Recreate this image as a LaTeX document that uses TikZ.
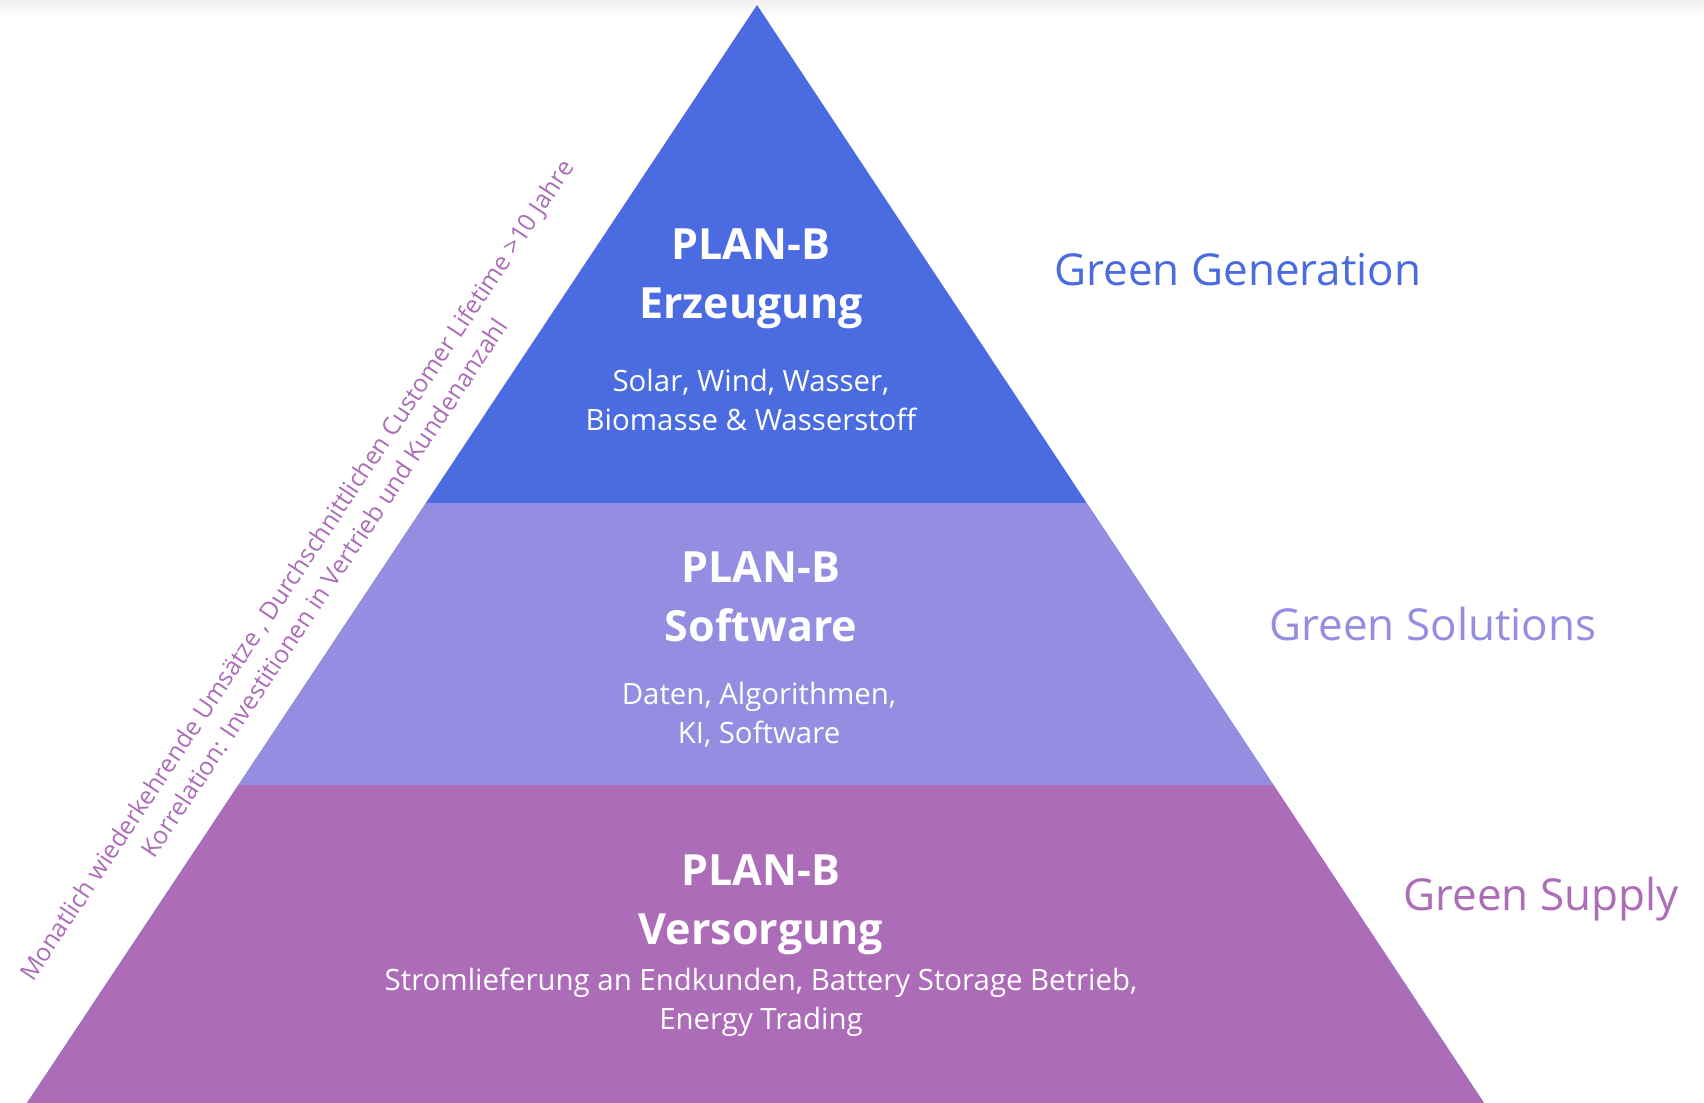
\documentclass[tikz,border=0pt]{standalone}
\usepackage{fontspec}
\setmainfont{Open Sans}
\usetikzlibrary{calc,positioning}
\definecolor{genblue}{HTML}{4A6CE0}
\definecolor{solviolet}{HTML}{958DE1}
\definecolor{suppurple}{HTML}{AC6CB8}

\begin{document}
\begin{tikzpicture}[x=0.5pt, y=-0.5pt,
          title/.style={text=white, font=\fontsize{21.5}{29.3}\selectfont\bfseries, align=center},
          detail/.style={text=white, font=\fontsize{14.7}{19.4}\selectfont, align=center},
          levelname/.style={font=\fontsize{22}{26}\selectfont, anchor=base west, inner sep=0pt},
          slopetext/.style={text=suppurple, font=\fontsize{12.3}{16.6}\selectfont, rotate=56.4, align=center},
          ]
          \useasboundingbox (0,0) rectangle (1704,1103);
          \shade[top color=black!6, bottom color=white] (0,0) rectangle (1704,16);

          % pyramid corners and band borders
          \coordinate (apex) at (757,5);
          \coordinate (baseL) at (27,1103);
          \coordinate (baseR) at (1484,1103);
          \coordinate (cutAL) at ($(apex)!0.4536!(baseL)$);
          \coordinate (cutAR) at ($(apex)!0.4536!(baseR)$);
          \coordinate (cutBL) at ($(apex)!0.7104!(baseL)$);
          \coordinate (cutBR) at ($(apex)!0.7104!(baseR)$);

          \fill[genblue] (apex) -- (baseL) -- (baseR) -- cycle;
          \fill[solviolet] (cutAL) -- (cutBL) -- (cutBR) -- (cutAR) -- cycle;
          \fill[suppurple] (cutBL) -- (baseL) -- (baseR) -- (cutBR) -- cycle;

          % texts in the bands
          \node[title] (erzeugung) at (751,279) {PLAN-B\\Erzeugung};
          \node[detail] (erzeugungInfo) at (751,400) {Solar, Wind, Wasser,\\Biomasse \& Wasserstoff};

          \node[title] (software) at (761,597) {PLAN-B\\Software};
          \node[detail] (softwareInfo) at (759,715) {Daten, Algorithmen,\\KI, Software};

          \node[title] (versorgung) at (761,905) {PLAN-B\\Versorgung};
          \node[detail] (versorgungInfo) at (761,1002) {Stromlieferung an Endkunden, Battery Storage Betrieb,\\Energy Trading};

          % names on the right
          \node[levelname, text=genblue] (generation) at (1054,285) {Green Generation};
          \node[levelname, text=solviolet] (solutions) at (1269,640) {Green Solutions};
          \node[levelname, text=suppurple] (supply) at (1403,910) {Green Supply};

          % text along the left side
          \node[slopetext] (revenue) at (310,579) {Monatlich wiederkehrende Umsätze , Durchschnittlichen Customer Lifetime >10 Jahre\\Korrelation: Investitionen in Vertrieb und Kundenanzahl};

        \end{tikzpicture}
\end{document}
